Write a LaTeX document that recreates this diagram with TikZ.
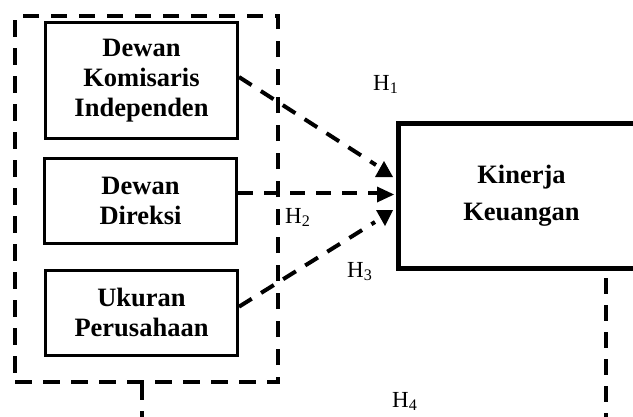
\documentclass[tikz,border=0pt]{standalone}
\usepackage{fontspec}
\setmainfont{Liberation Serif}
\begin{document}
\begin{tikzpicture}[x=1pt,y=-1pt,
  box/.style={draw,line width=3pt,inner sep=0pt,align=center,
    font=\fontsize{26.5}{30}\selectfont\bfseries,minimum width=192pt},
  grpbox/.style={draw,line width=4pt,dash pattern=on 16.5pt off 11.5pt,inner sep=0pt},
  kinbox/.style={draw,line width=5pt,inner sep=0pt,align=center,
    font=\fontsize{26.5}{36.7}\selectfont\bfseries},
  conn/.style={line width=4pt,dash pattern=on 15pt off 11pt},
  vconn/.style={line width=4pt,dash pattern=on 16pt off 11pt},
  hlab/.style={inner sep=0pt,anchor=base west,font=\fontsize{23}{27}\selectfont},
  head/.style={fill=black}]
\path[use as bounding box, clip] (0,0) rectangle (633,416);

% group (dashed) box
\node[grpbox,minimum width=263pt,minimum height=366pt] (grp) at (146.5,199) {};

% independent variables
\node[box,minimum height=115.6pt] (b1) at (141.5,80.5) {Dewan\\Komisaris\\Independen};
\node[box,minimum height=85pt] (b2) at (140.5,200.8) {Dewan\\Direksi};
\node[box,minimum height=85pt] (b3) at (141.5,312.5) {Ukuran\\Perusahaan};

% dependent variable
\node[kinbox,minimum width=247pt,minimum height=145pt] (kin) at (521.5,195.5) {Kinerja\\Keuangan};

% arrow end points
\coordinate (e1) at (376,165);
\coordinate (e2) at (377,193);
\coordinate (e3) at (375,222);

\draw[conn] ([yshift=3.5pt]b1.east) -- (e1);
\draw[conn] ([yshift=7.8pt]b2.east) -- (e2);
\draw[conn] ([yshift=5.8pt]b3.east) -- (e3);

% arrowheads
\fill[head] (384,161) -- (375,177) -- (393,177) -- cycle;
\fill[head] (394,194.5) -- (377,186.5) -- (377,202.5) -- cycle;
\fill[head] (376,210) -- (393,210) -- (385,226) -- cycle;

% H4 connector
\draw[vconn] ([xshift=-5pt]grp.south) -- ++(0,60) -| ([xshift=84.5pt]kin.south);

% labels
\node[hlab] (h1) at (373,90) {H\textsubscript{1}};
\node[hlab] (h2) at (285,223) {H\textsubscript{2}};
\node[hlab] (h3) at (347,277) {H\textsubscript{3}};
\node[hlab] (h4) at (392,407) {H\textsubscript{4}};
\end{tikzpicture}
\end{document}
